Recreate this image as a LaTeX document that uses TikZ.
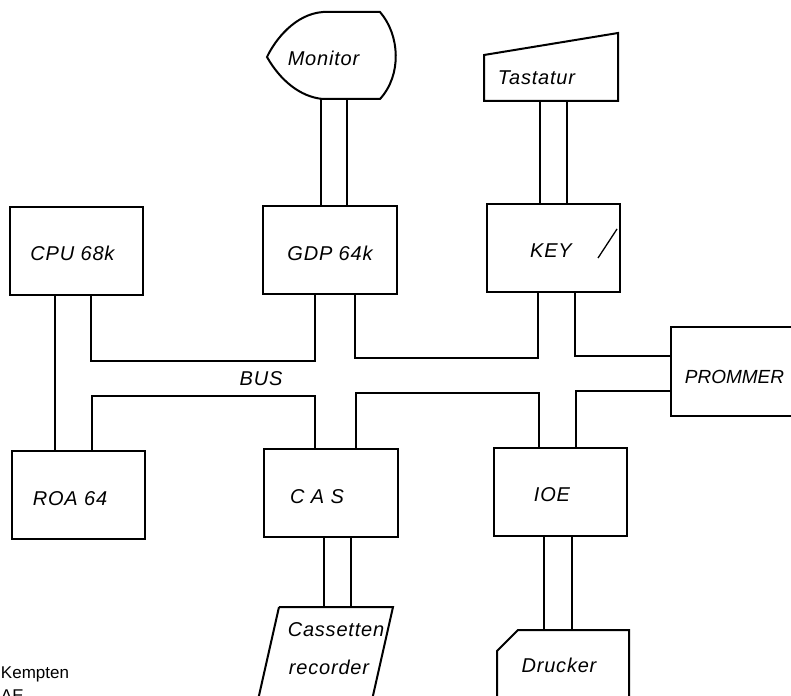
\documentclass[tikz,border=0pt]{standalone}
\usepackage{fontspec}
\newfontfamily\labfont[LetterSpace=4]{Liberation Sans}
\newfontfamily\capfont{Liberation Sans}
\newfontfamily\plainfont{Liberation Sans}
\begin{document}
\begin{tikzpicture}[x=1pt,y=-1pt, line width=2pt, line join=miter,
  box/.style={draw, rectangle, inner sep=0pt, outer sep=0pt},
  lab/.style={font=\labfont\itshape\fontsize{20}{24}\selectfont, inner sep=0pt},
  note/.style={font=\plainfont\fontsize{17}{20}\selectfont, inner sep=0pt, anchor=base west}]
\useasboundingbox (0,0) rectangle (791,695);
\fill[white] (0,0) rectangle (791,695);

% main boxes
\node[box, minimum width=133pt, minimum height=88pt] (cpu) at (76.5,251) {};
\node[box, minimum width=134pt, minimum height=88pt] (gdp) at (330,250) {};
\node[box, minimum width=133pt, minimum height=88pt] (key) at (553.5,248) {};
\node[box, minimum width=133pt, minimum height=88pt] (roa) at (78.5,495) {};
\node[box, minimum width=134pt, minimum height=88pt] (cas) at (331,493) {};
\node[box, minimum width=133pt, minimum height=88pt] (ioe) at (560.5,492) {};
\node[box, minimum width=140pt, minimum height=89pt] (prom) at (741,371.5) {};

% labels
\node[lab] (tcpu) at (72.5,253) {CPU 68k};
\node[lab] (tgdp) at (330,253) {GDP 64k};
\node[lab] (tkey) at (551,251) {KEY};
\node[lab, font=\capfont\itshape\fontsize{19}{23}\selectfont] (tprom) at (734.5,377) {PROMMER};
\node[lab] (tbus) at (261,379) {BUS};
\node[lab] (troa) at (70,499) {ROA 64};
\node[lab] (tcas) at (317,497) {C A S};
\node[lab] (tioe) at (552,495) {IOE};

% Monitor
\draw (323,12) -- (380,12) .. controls (400,35) and (402,75) .. (380,99)
  -- (323,99) .. controls (300,97) and (280,80) .. (267,57)
  .. controls (275,40) and (295,14) .. (323,12) -- cycle;
\node[lab] (tmon) at (323.5,58) {Monitor};
\coordinate (monbot) at (335,99);

% Tastatur
\draw (484,55) -- (618,33) -- (618,101) -- (484,101) -- cycle;
\node[lab] (ttas) at (536.5,78) {Tastatur};
\coordinate (tasbot) at (550,101);

% Cassetten recorder
\draw (279,607) -- (393,607) -- (372,700);
\draw (279,607) -- (258,700);
\node[lab] (tcass) at (336,630) {Cassetten};
\node[lab] (trec) at (329,667) {recorder};
\coordinate (casstop) at (340,607);

% Drucker
\draw (497,700) -- (497,651) -- (518,630) -- (629,630) -- (629,700);
\node[lab] (tdru) at (559,665) {Drucker};
\coordinate (drutop) at (560,630);

% stray pen mark in KEY
\draw[line width=1.3pt] (598,258) -- (617,229);

% vertical pairs to peripherals
\draw (321,0 |- monbot) -- (321,0 |- gdp.north);
\draw (347,0 |- monbot) -- (347,0 |- gdp.north);
\draw (540,0 |- tasbot) -- (540,0 |- key.north);
\draw (567,0 |- tasbot) -- (567,0 |- key.north);
\draw (324,0 |- cas.south) -- (324,0 |- casstop);
\draw (351,0 |- cas.south) -- (351,0 |- casstop);
\draw (544,0 |- ioe.south) -- (544,0 |- drutop);
\draw (572,0 |- ioe.south) -- (572,0 |- drutop);

% bus
\draw (55,0 |- cpu.south) -- (55,0 |- roa.north);
\draw (91,0 |- cpu.south) -- (91,361) -- (315,361) -- (315,0 |- gdp.south);
\draw (355,0 |- gdp.south) -- (355,358) -- (538,358) -- (538,0 |- key.south);
\draw (575,0 |- key.south) -- (575,356) -- (prom.west |- 0,356);
\draw (92,0 |- roa.north) -- (92,396) -- (315,396) -- (315,0 |- cas.north);
\draw (356,0 |- cas.north) -- (356,393) -- (539,393) -- (539,0 |- ioe.north);
\draw (576,0 |- ioe.north) -- (576,391) -- (prom.west |- 0,391);

% bottom-left text
\node[note] (kemp) at (0,678) {Kempten};
\node[note] (ae) at (0,701) {AE};
\end{tikzpicture}
\end{document}
